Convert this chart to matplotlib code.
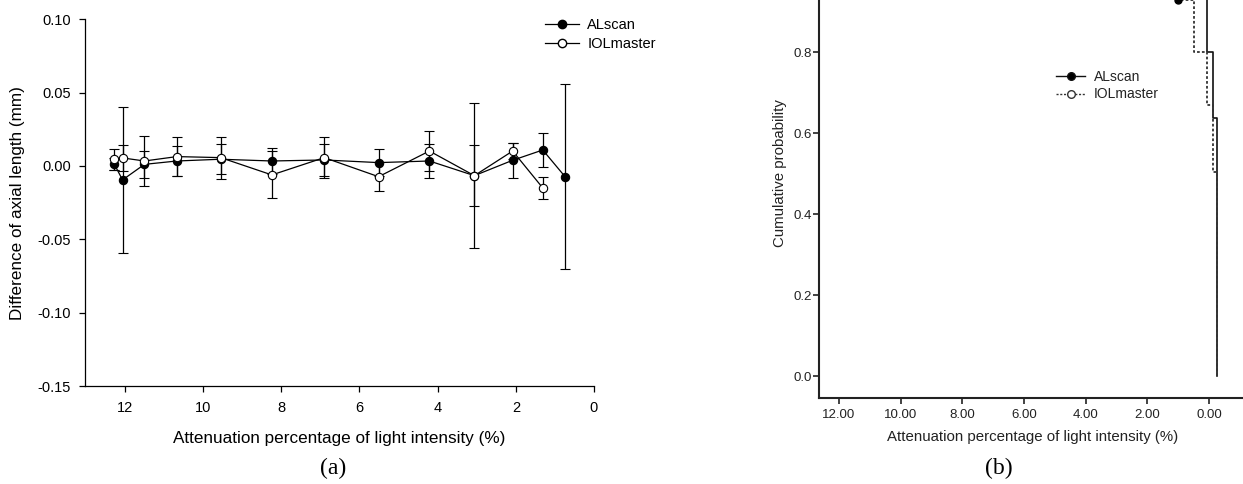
import numpy as np
import matplotlib

matplotlib.use("Agg")
import matplotlib.pyplot as plt
from matplotlib.lines import Line2D

plt.rcParams["font.family"] = ["Liberation Sans", "DejaVu Sans"]
plt.rcParams["axes.unicode_minus"] = False

# (a) mean +/- SD of axial length difference
atten = [12.27, 12.06, 11.5, 10.67, 9.55, 8.24, 6.9, 5.51, 4.21, 3.06, 2.08, 1.31, 0.74]
al_mean = [0.0012, -0.0095, 0.0011, 0.0034, 0.0046, 0.0034, 0.0041, 0.0023, 0.0034, -0.0066, 0.0039, 0.0109, -0.0073]
al_sd = [0.004, 0.050, 0.009, 0.0102, 0.0102, 0.009, 0.0107, 0.0093, 0.0116, 0.0494, 0.012, 0.0118, 0.0631]
iol_atten = atten[:12]
iol_mean = [0.0046, 0.0055, 0.0034, 0.0064, 0.0057, -0.0061, 0.0057, -0.0073, 0.0102, -0.0066, 0.0102, -0.015]
iol_sd = [0.007, 0.0088, 0.0173, 0.0132, 0.0143, 0.016, 0.0141, 0.0098, 0.0139, 0.0206, 0.0057, 0.0073]
a_xticks = [12, 10, 8, 6, 4, 2, 0]
a_yticks = [-0.15, -0.10, -0.05, 0.00, 0.05, 0.10]

# (b) cumulative probability steps (x of each vertical run, y break points)
al_step_x = [-0.25, -0.12, 0.06]
al_step_p = [0.0, 0.637, 0.80, 1.06]
iol_step_x = [-0.27, -0.12, 0.07, 0.49]
iol_step_p = [0.0, 0.505, 0.67, 0.80, 0.928]
al_top_pt = (1.0, 0.928)
b_xticks = [12, 10, 8, 6, 4, 2, 0]
b_yticks = [0.0, 0.2, 0.4, 0.6, 0.8]


def step_path(xs, ps):
    vx = np.repeat(xs, 2)
    vy = np.empty(2 * len(xs))
    vy[0::2] = ps[:-1]
    vy[1::2] = ps[1:]
    return vx, vy


W, H = 1243, 484
fig = plt.figure(figsize=(W / 100, H / 100), dpi=100)

# ---------- panel (a)
ax = fig.add_axes([85 / W, 1 - 386 / H, 509 / W, (386 - 19.3) / H])
ax.errorbar(atten, al_mean, yerr=al_sd, fmt="-o", color="black", ms=6, mfc="black",
            mec="black", mew=0.8, lw=0.9, elinewidth=0.9, capsize=3.3, capthick=0.9, zorder=3)
ax.errorbar(iol_atten, iol_mean, yerr=iol_sd, fmt="-o", color="black", ms=6, mfc="white",
            mec="black", mew=0.8, lw=0.9, elinewidth=0.9, capsize=3.3, capthick=0.9, zorder=4)
ax.set_xlim(13.02, 0)
ax.set_ylim(-0.15, 0.10)
ax.set_xticks(a_xticks)
ax.set_yticks(a_yticks)
ax.set_yticklabels([f"{v:.2f}" for v in a_yticks])
ax.spines["top"].set_visible(False)
ax.spines["right"].set_visible(False)
for s in ("left", "bottom"):
    ax.spines[s].set_linewidth(0.9)
ax.tick_params(axis="y", direction="out", length=4, width=0.9, pad=6, labelsize=10.5)
ax.tick_params(axis="x", direction="out", length=4, width=0.9, pad=7, labelsize=10.5)
ax.set_xlabel("Attenuation percentage of light intensity (%)", fontsize=12.3, va="center")
ax.set_ylabel("Difference of axial length (mm)", fontsize=12.3, va="center")
ax.xaxis.set_label_coords(0.5, (386 - 438) / 366.7)
ax.yaxis.set_label_coords((18 - 85) / 509, 0.5)

h_a = [
    Line2D([], [], color="black", marker="o", ms=6, mfc="black", lw=0.9),
    Line2D([], [], color="black", marker="o", ms=6, mfc="white", lw=0.9),
]
fig.legend(h_a, ["ALscan", "IOLmaster"], loc="upper left",
           bbox_to_anchor=(545 / W, 1 - 18 / H), frameon=False, fontsize=10.5,
           handlelength=2.3, handletextpad=0.6, labelspacing=0.35,
           borderpad=0, borderaxespad=0)

# ---------- panel (b)
gray = "#222222"
bx = fig.add_axes([819 / W, 1 - 398 / H, 428 / W, 450 / H])
vx, vy = step_path(iol_step_x, iol_step_p)
vx = np.append(vx, al_top_pt[0])
vy = np.append(vy, iol_step_p[-1])
bx.plot(vx, vy, color="#333333", lw=1.3, ls=(0, (1.5, 1.2)), zorder=3)
vx, vy = step_path(al_step_x, al_step_p)
bx.plot(vx, vy, color="#111111", lw=1.2, zorder=2)
bx.plot([al_top_pt[0]], [al_top_pt[1]], "o", color="black", ms=5, zorder=4)
bx.set_xlim(12.65, -1.23)
bx.set_ylim(-0.054, 1.057)
bx.set_xticks(b_xticks)
bx.set_xticklabels([f"{v:.2f}" for v in b_xticks])
bx.set_yticks(b_yticks)
bx.set_yticklabels([f"{v:.1f}" for v in b_yticks])
for s in bx.spines.values():
    s.set_linewidth(1.5)
    s.set_color(gray)
bx.tick_params(direction="out", length=4, width=1.2, color=gray, labelcolor=gray, labelsize=9.5)
bx.tick_params(axis="y", pad=1)
bx.tick_params(axis="x", pad=4)
bx.set_xlabel("Attenuation percentage of light intensity (%)", fontsize=10.8, color=gray, va="center")
bx.set_ylabel("Cumulative probability", fontsize=10.8, color=gray, va="center")
bx.xaxis.set_label_coords(0.5, (398 - 437) / 450)
bx.yaxis.set_label_coords((780 - 819) / 428, (398 - 173) / 450)

h_b = [
    Line2D([], [], color="#111111", marker="o", ms=5.5, mfc="black", lw=1.0),
    Line2D([], [], color="#333333", marker="o", ms=5.5, mfc="white", lw=1.0, ls=(0, (1.5, 1.2))),
]
fig.legend(h_b, ["ALscan", "IOLmaster"], loc="upper left",
           bbox_to_anchor=(1056 / W, 1 - 70 / H), frameon=False, fontsize=10,
           handlelength=2.1, handletextpad=0.6, labelspacing=0.25,
           borderpad=0, borderaxespad=0, labelcolor=gray)

fig.text(333 / W, 1 - 468 / H, "(a)", ha="center", va="center", fontsize=17,
         family=["Liberation Serif", "DejaVu Serif"])
fig.text(999 / W, 1 - 468 / H, "(b)", ha="center", va="center", fontsize=17,
         family=["Liberation Serif", "DejaVu Serif"])

fig.savefig("out.png", dpi=100)
